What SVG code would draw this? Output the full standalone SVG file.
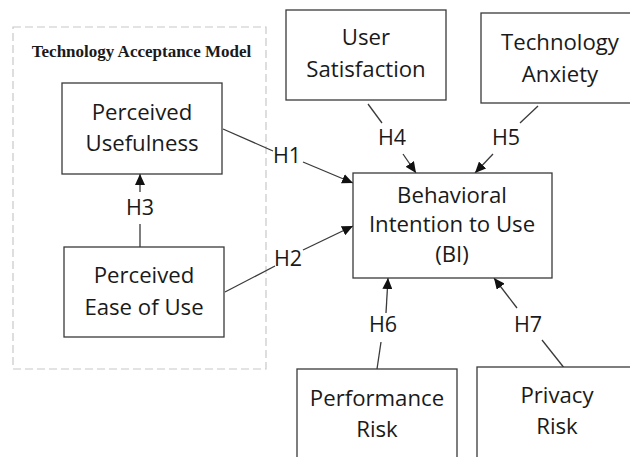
<svg xmlns="http://www.w3.org/2000/svg" width="630" height="457" viewBox="0 0 630 457">
<style>
.box{fill:#fff;stroke:#3a3a3a;stroke-width:1.3}
.t{font-family:"Open Sans","Noto Sans","Liberation Sans",sans-serif;font-size:22.2px;fill:#1a1a1a;text-anchor:middle}
.lbl{font-family:"Open Sans","Noto Sans","Liberation Sans",sans-serif;font-size:21.5px;fill:#1a1a1a;text-anchor:middle}
.ln{stroke:#3a3a3a;stroke-width:1.3;fill:none}
.title{font-family:"Liberation Serif","Times New Roman",serif;font-weight:bold;font-size:17px;fill:#1a1a1a;text-anchor:middle}
</style>
<defs>
<marker id="ah" markerUnits="userSpaceOnUse" markerWidth="12" markerHeight="10" viewBox="0 0 12 10" refX="11" refY="5" orient="auto">
<path d="M0,0 L11,5 L0,10 Z" fill="#111"/>
</marker>
</defs>
<rect width="630" height="457" fill="#fff"/>
<g id="tam-group">
<rect x="13" y="27" width="253" height="342" fill="none" stroke="#c8c8c8" stroke-width="1.2" stroke-dasharray="8,4"/>
<text class="title" x="141.5" y="57">Technology Acceptance Model</text>
</g>
<g id="connectors">
<line class="ln" x1="140" y1="247" x2="140" y2="224"/>
<line class="ln" x1="140" y1="192" x2="140" y2="174" marker-end="url(#ah)"/>
<text class="lbl" x="140" y="215">H3</text>
<line class="ln" x1="223" y1="129" x2="273" y2="151"/>
<line class="ln" x1="303" y1="162" x2="353" y2="183" marker-end="url(#ah)"/>
<text class="lbl" x="287" y="163">H1</text>
<line class="ln" x1="225" y1="292" x2="275" y2="266"/>
<line class="ln" x1="303" y1="250" x2="353" y2="226" marker-end="url(#ah)"/>
<text class="lbl" x="288" y="266">H2</text>
<line class="ln" x1="368" y1="104" x2="382" y2="123"/>
<line class="ln" x1="403" y1="154" x2="416" y2="173" marker-end="url(#ah)"/>
<text class="lbl" x="392" y="145">H4</text>
<line class="ln" x1="538" y1="106" x2="520" y2="123"/>
<line class="ln" x1="493" y1="154" x2="475" y2="173" marker-end="url(#ah)"/>
<text class="lbl" x="506" y="145">H5</text>
<line class="ln" x1="377" y1="369" x2="381" y2="342"/>
<line class="ln" x1="386" y1="313" x2="388" y2="278" marker-end="url(#ah)"/>
<text class="lbl" x="383" y="332">H6</text>
<line class="ln" x1="565" y1="369" x2="542" y2="340"/>
<line class="ln" x1="517" y1="308" x2="494" y2="278" marker-end="url(#ah)"/>
<text class="lbl" x="528" y="332">H7</text>
</g>
<g id="pu">
<rect class="box" x="62" y="83" width="160" height="91"/>
<text class="t" x="142" y="120">Perceived</text>
<text class="t" x="142" y="151">Usefulness</text>
</g>
<g id="peou">
<rect class="box" x="64" y="247" width="160" height="90"/>
<text class="t" x="144" y="283">Perceived</text>
<text class="t" x="144" y="315">Ease of Use</text>
</g>
<g id="us">
<rect class="box" x="286" y="10" width="160" height="90"/>
<text class="t" x="366" y="45">User</text>
<text class="t" x="366" y="77">Satisfaction</text>
</g>
<g id="ta">
<rect class="box" x="481" y="13" width="160" height="90"/>
<text class="t" x="560" y="50">Technology</text>
<text class="t" x="560" y="82">Anxiety</text>
</g>
<g id="bi">
<rect class="box" x="353" y="173" width="199" height="105"/>
<text class="t" x="452" y="203">Behavioral</text>
<text class="t" x="452" y="232">Intention to Use</text>
<text class="t" x="452" y="262">(BI)</text>
</g>
<g id="pr">
<rect class="box" x="297" y="369" width="160" height="92"/>
<text class="t" x="377" y="406">Performance</text>
<text class="t" x="377" y="437">Risk</text>
</g>
<g id="prr">
<rect class="box" x="477" y="367" width="160" height="92"/>
<text class="t" x="557" y="403">Privacy</text>
<text class="t" x="557" y="434">Risk</text>
</g>
</svg>
